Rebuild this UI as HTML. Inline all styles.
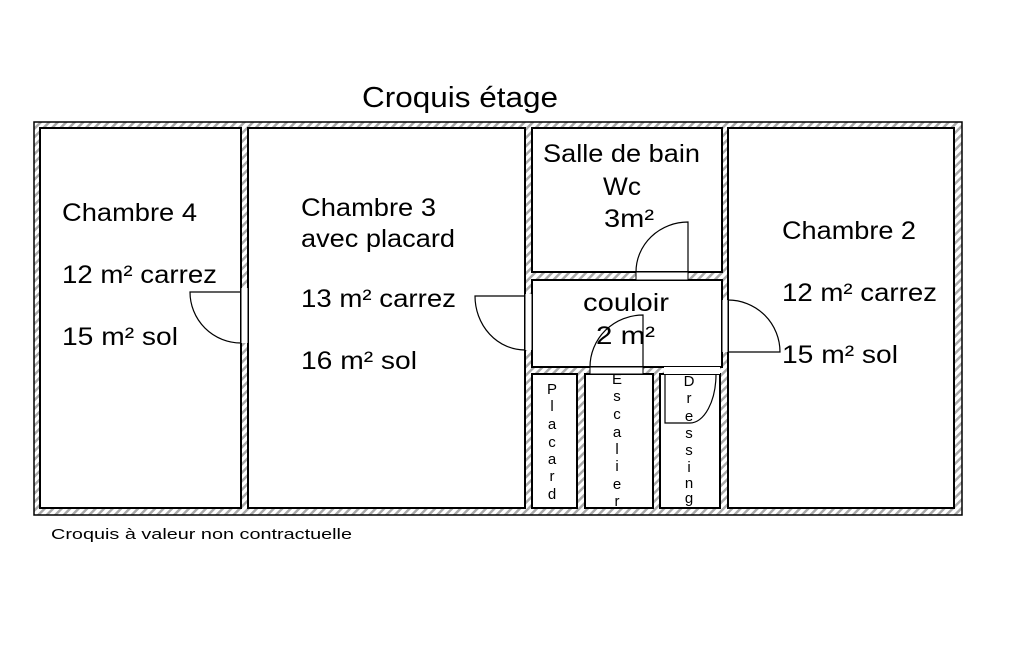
<!DOCTYPE html>
<html><head><meta charset="utf-8"><style>
html,body{margin:0;padding:0;background:#fff;}
svg{display:block;}
text{font-family:"Liberation Sans",sans-serif;fill:#000;}
</style></head><body>
<svg width="1025" height="650" viewBox="0 0 1025 650" xmlns="http://www.w3.org/2000/svg">
<defs>
<pattern id="h" width="6" height="6" patternUnits="userSpaceOnUse" patternTransform="rotate(45)">
<rect width="6" height="6" fill="#fff"/><rect width="2.5" height="6" fill="#aaa"/>
</pattern>
</defs>
<text x="362" y="107" font-size="29" textLength="196" lengthAdjust="spacingAndGlyphs">Croquis étage</text>
<rect x="34" y="122" width="928" height="393" fill="url(#h)" stroke="#000" stroke-width="1.5"/>
<g fill="#fff" stroke="#000" stroke-width="2">
<rect x="40" y="128" width="201" height="380"/>
<rect x="248" y="128" width="277" height="380"/>
<rect x="532" y="128" width="190" height="144"/>
<rect x="532" y="280" width="190" height="87"/>
<rect x="532" y="374" width="45" height="134"/>
<rect x="585" y="374" width="68" height="134"/>
<rect x="660" y="374" width="60" height="134"/>
<rect x="728" y="128" width="226" height="380"/>
</g>
<g fill="#fff" stroke="#000" stroke-width="1">
<rect x="241" y="288" width="7" height="55" stroke="none"/>
<line x1="241" y1="288" x2="241" y2="343"/><line x1="248" y1="288" x2="248" y2="343"/>
<rect x="525" y="294" width="7" height="56" stroke="none"/>
<line x1="525" y1="294" x2="525" y2="350"/><line x1="532" y1="294" x2="532" y2="350"/>
<rect x="636" y="272" width="52" height="8"/>
<rect x="590" y="367" width="53" height="7"/>
<rect x="722" y="300" width="6" height="52" stroke="none"/>
<line x1="722" y1="300" x2="722" y2="352"/><line x1="728" y1="300" x2="728" y2="352"/>
<rect x="664" y="367" width="56" height="7" stroke="none"/>
</g>
<g fill="none" stroke="#000" stroke-width="1.2">
<path d="M241 292 H190 A51 51 0 0 0 241 343"/>
<path d="M525 296 H475 A50 54 0 0 0 525 350"/>
<path d="M688 272 V222 A52 50 0 0 0 636 272"/>
<path d="M643 367 V315 A53 52 0 0 0 590 367"/>
<path d="M728 352 H780 A52 52 0 0 0 728 300"/>
<path d="M665 374 V423 H690 A26 49 0 0 0 716 374"/>
</g>
<g font-size="25">
<text x="62" y="221" textLength="135" lengthAdjust="spacingAndGlyphs">Chambre 4</text>
<text x="62" y="283" textLength="155" lengthAdjust="spacingAndGlyphs">12 m² carrez</text>
<text x="62" y="345" textLength="116" lengthAdjust="spacingAndGlyphs">15 m² sol</text>
<text x="301" y="216" textLength="135" lengthAdjust="spacingAndGlyphs">Chambre 3</text>
<text x="301" y="247" textLength="154" lengthAdjust="spacingAndGlyphs">avec placard</text>
<text x="301" y="307" textLength="155" lengthAdjust="spacingAndGlyphs">13 m² carrez</text>
<text x="301" y="369" textLength="116" lengthAdjust="spacingAndGlyphs">16 m² sol</text>
<text x="543" y="162" textLength="157" lengthAdjust="spacingAndGlyphs">Salle de bain</text>
<text x="603" y="195" textLength="38" lengthAdjust="spacingAndGlyphs">Wc</text>
<text x="604" y="227" textLength="50" lengthAdjust="spacingAndGlyphs">3m²</text>
<text x="583" y="311" textLength="86" lengthAdjust="spacingAndGlyphs">couloir</text>
<text x="596" y="344" textLength="59" lengthAdjust="spacingAndGlyphs">2 m²</text>
<text x="782" y="239" textLength="134" lengthAdjust="spacingAndGlyphs">Chambre 2</text>
<text x="782" y="301" textLength="155" lengthAdjust="spacingAndGlyphs">12 m² carrez</text>
<text x="782" y="363" textLength="116" lengthAdjust="spacingAndGlyphs">15 m² sol</text>
</g>
<g font-size="15" text-anchor="middle">
<text x="552" y="394">P</text><text x="552" y="411">l</text><text x="552" y="429">a</text><text x="552" y="447">c</text><text x="552" y="464">a</text><text x="552" y="481">r</text><text x="552" y="499">d</text>
<text x="617" y="384">E</text><text x="617" y="401">s</text><text x="617" y="419">c</text><text x="617" y="437">a</text><text x="617" y="454">l</text><text x="617" y="471">i</text><text x="617" y="489">e</text><text x="617" y="506">r</text>
<text x="689" y="386">D</text><text x="689" y="403">r</text><text x="689" y="421">e</text><text x="689" y="438">s</text><text x="689" y="455">s</text><text x="689" y="472">i</text><text x="689" y="488">n</text><text x="689" y="503">g</text>
</g>
<text x="51" y="539" font-size="15" textLength="301" lengthAdjust="spacingAndGlyphs">Croquis à valeur non contractuelle</text>
</svg>
</body></html>
